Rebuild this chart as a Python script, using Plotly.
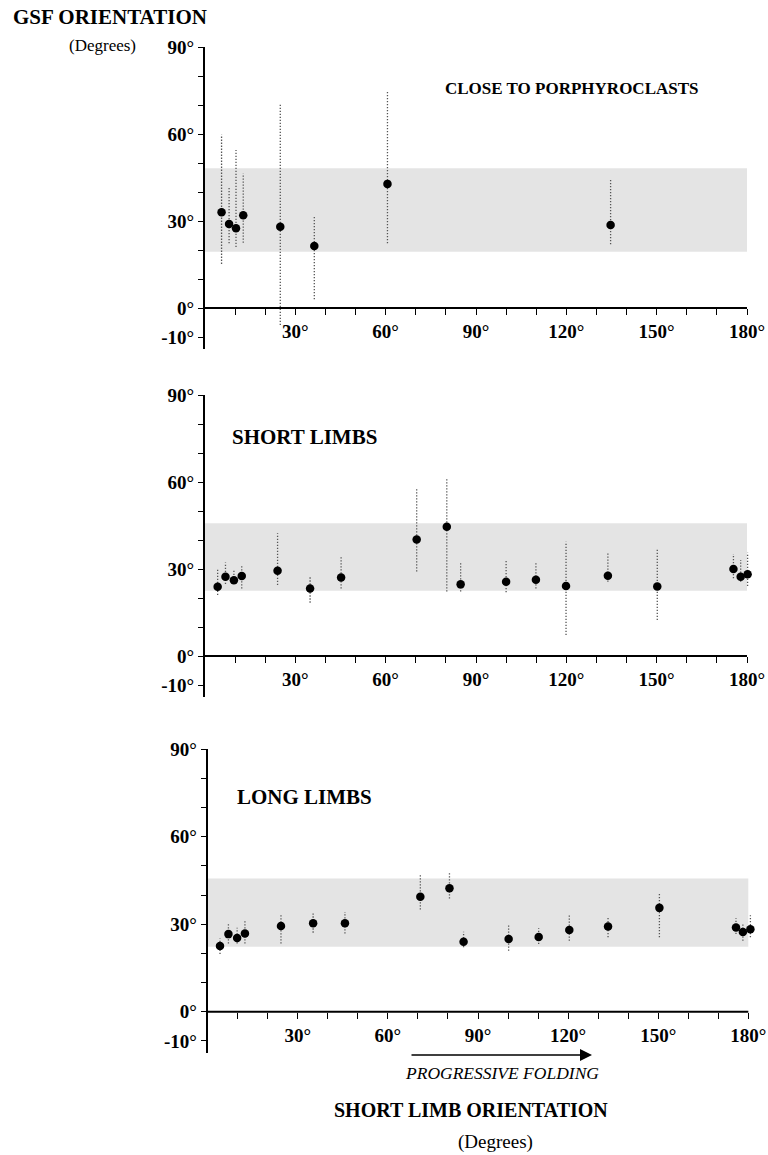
import plotly.graph_objects as go

W, H = 768, 1155

# ---------------- data ----------------
# Panel 1: close to porphyroclasts
p1_x  = [5.5, 8.0, 10.3, 12.7, 25.0, 36.3, 60.6, 134.7]
p1_y  = [33.0, 29.0, 27.5, 32.0, 28.0, 21.4, 42.8, 28.6]
p1_lo = [15.2, 22.3, 21.0, 22.5, -5.9, 3.0, 22.3, 22.0]
p1_hi = [59.7, 41.5, 54.5, 46.4, 70.2, 31.5, 74.6, 44.5]
p1_band = [19.4, 48.2]

# Panel 2: short limbs
p2_x  = [4.2, 6.8, 9.6, 12.2, 24.1, 34.9, 45.2, 70.3, 80.3, 84.9, 100.0, 109.9, 119.9, 133.8, 150.2, 175.5, 177.9, 180.2]
p2_y  = [23.9, 27.3, 26.1, 27.6, 29.4, 23.3, 27.1, 40.2, 44.6, 24.7, 25.6, 26.3, 24.1, 27.7, 24.0, 30.0, 27.3, 28.2]
p2_lo = [21.0, 24.8, 24.8, 23.3, 24.5, 18.4, 23.3, 29.1, 22.2, 22.2, 22.0, 23.3, 7.2, 25.6, 12.4, 26.8, 25.6, 24.1]
p2_hi = [30.0, 32.2, 30.0, 31.4, 42.3, 27.3, 34.5, 57.8, 61.3, 32.2, 33.3, 32.2, 39.4, 35.6, 36.6, 35.2, 33.1, 35.6]
p2_band = [22.5, 45.8]

# Panel 3: long limbs
p3_x  = [4.1, 6.9, 9.8, 12.4, 24.4, 35.1, 45.7, 70.8, 80.5, 85.2, 100.2, 110.2, 120.4, 133.3, 150.4, 175.9, 178.2, 180.7]
p3_y  = [22.5, 26.6, 25.3, 26.8, 29.4, 30.3, 30.3, 39.4, 42.3, 24.0, 24.9, 25.6, 28.0, 29.2, 35.6, 28.9, 27.3, 28.3]
p3_lo = [19.8, 23.4, 23.4, 23.4, 23.4, 27.1, 26.8, 35.0, 38.8, 22.1, 20.9, 23.2, 24.3, 25.5, 25.5, 26.6, 24.3, 25.5]
p3_hi = [25.1, 30.3, 28.8, 31.1, 33.7, 33.7, 34.2, 46.8, 47.9, 27.4, 29.9, 28.6, 33.1, 32.2, 40.5, 32.0, 30.5, 33.1]
p3_band = [22.3, 45.7]

x_tickvals = [10, 20, 30, 40, 50, 60, 70, 80, 90, 100, 110, 120, 130, 140, 150, 160, 170, 180]
x_ticktext = ["" if v % 30 else f"{v}°" for v in x_tickvals]
y_tickvals = [-10, 0, 10, 20, 30, 40, 50, 60, 70, 80, 90]
y_ticktext = ["-10°", "0°", "", "", "30°", "", "", "60°", "", "", "90°"]

panel_titles = ["CLOSE TO PORPHYROCLASTS", "SHORT LIMBS", "LONG LIMBS"]

# ---------------- layout geometry (pixels) ----------------
# per panel: x pixel of 0 deg, x pixel of 180 deg, y pixel of 90 deg, y pixel of 0 deg
geom = [
    (205.0, 747.0, 47.0, 308.0),
    (205.0, 747.0, 395.0, 656.0),
    (207.7, 748.3, 749.2, 1011.7),
]
YMIN, YMAX = -14, 90
XMAX_AXIS = 180      # end of the drawn axis line
XMAX_VIEW = 183      # a little room so points just past 180 stay visible

def px_x(p):
    return p / W

def px_y(p):
    return 1 - p / H

SERIF = "Liberation Serif, Times New Roman, serif"
BAND = "#e4e4e4"

fig = go.Figure()
panels = [
    (p1_x, p1_y, p1_lo, p1_hi, p1_band),
    (p2_x, p2_y, p2_lo, p2_hi, p2_band),
    (p3_x, p3_y, p3_lo, p3_hi, p3_band),
]

layout_axes = {}
for i, ((xs, ys, lo, hi, band), (x0p, x1p, y90p, y0p)) in enumerate(zip(panels, geom)):
    n = i + 1
    xa = "x" if n == 1 else f"x{n}"
    ya = "y" if n == 1 else f"y{n}"
    ppd = (y0p - y90p) / 90.0
    ytop = y0p - YMAX * ppd
    ybot = y0p - YMIN * ppd
    xpd = (x1p - x0p) / XMAX_AXIS
    xright = x0p + XMAX_VIEW * xpd

    # error bars (dotted)
    ex, ey = [], []
    for x, a, b in zip(xs, lo, hi):
        ex += [x, x, None]
        ey += [a, b, None]
    fig.add_trace(go.Scatter(x=ex, y=ey, mode="lines", xaxis=xa, yaxis=ya,
                             line=dict(color="#555555", width=1.3, dash="1.3px,1.7px"),
                             hoverinfo="skip", showlegend=False))
    fig.add_trace(go.Scatter(x=xs, y=ys, mode="markers", xaxis=xa, yaxis=ya,
                             marker=dict(color="black", size=8.5),
                             showlegend=False))

    # shaded band
    fig.add_shape(type="rect", xref=xa, yref=ya, x0=0, x1=XMAX_AXIS, y0=band[0], y1=band[1],
                  fillcolor=BAND, line=dict(width=0), layer="below")
    # x-axis line at 0 deg, from 0 to 180
    fig.add_shape(type="line", xref=xa, yref=ya, x0=0, x1=XMAX_AXIS, y0=0, y1=0,
                  line=dict(color="black", width=2), layer="above")

    xkey = "xaxis" if n == 1 else f"xaxis{n}"
    ykey = "yaxis" if n == 1 else f"yaxis{n}"
    layout_axes[xkey] = dict(
        domain=[px_x(x0p), px_x(xright)], range=[0, XMAX_VIEW], anchor="free",
        position=px_y(y0p), showline=False,
        ticks="outside", ticklen=6, tickwidth=1.2, tickcolor="black",
        tickvals=x_tickvals, ticktext=x_ticktext, showgrid=False, zeroline=False,
        tickfont=dict(family=SERIF, size=19, color="black", weight="bold"),
        automargin=False, fixedrange=True,
    )
    layout_axes[ykey] = dict(
        domain=[px_y(ybot), px_y(ytop)], range=[YMIN, YMAX], anchor=xa,
        showline=True, linecolor="black", linewidth=2,
        ticks="outside", ticklen=5, tickwidth=1.2, tickcolor="black",
        tickvals=y_tickvals, ticktext=y_ticktext, showgrid=False, zeroline=False,
        tickfont=dict(family=SERIF, size=19, color="black", weight="bold"),
        automargin=False, fixedrange=True,
    )

annotations = [
    dict(text="GSF ORIENTATION", x=px_x(110), y=px_y(17), size=21, bold=True, italic=False),
    dict(text="(Degrees)", x=px_x(102), y=px_y(45), size=17, bold=False, italic=False),
    dict(text=panel_titles[0], x=px_x(572), y=px_y(89), size=17, bold=True, italic=False),
    dict(text=panel_titles[1], x=px_x(304), y=px_y(437), size=21, bold=True, italic=False),
    dict(text=panel_titles[2], x=px_x(304), y=px_y(797), size=21, bold=True, italic=False),
    dict(text="PROGRESSIVE FOLDING", x=px_x(502), y=px_y(1073), size=17.5, bold=False, italic=True),
    dict(text="SHORT LIMB ORIENTATION", x=px_x(471), y=px_y(1110), size=20, bold=True, italic=False),
    dict(text="(Degrees)", x=px_x(495), y=px_y(1142), size=19, bold=False, italic=False),
]
ann_list = []
for a in annotations:
    ann_list.append(dict(
        text=a["text"], x=a["x"], y=a["y"], xref="paper", yref="paper",
        xanchor="center", yanchor="middle", showarrow=False,
        font=dict(family=SERIF, size=a["size"], color="black",
                  weight="bold" if a["bold"] else "normal",
                  style="italic" if a["italic"] else "normal"),
    ))
# progressive folding arrow
ann_list.append(dict(
    x=px_x(592), y=px_y(1055), ax=-182, ay=0,
    xref="paper", yref="paper",
    text="", showarrow=True, arrowhead=2, arrowsize=1.6, arrowwidth=1.5,
    arrowcolor="black",
))

fig.update_layout(
    width=W, height=H, margin=dict(l=0, r=0, t=0, b=0),
    paper_bgcolor="white", plot_bgcolor="white",
    annotations=ann_list, showlegend=False, **layout_axes,
)

fig.write_html(
    "out.html",
    config={"displayModeBar": False},
    post_script="document.body.style.margin='0';document.body.style.overflow='hidden';",
)
